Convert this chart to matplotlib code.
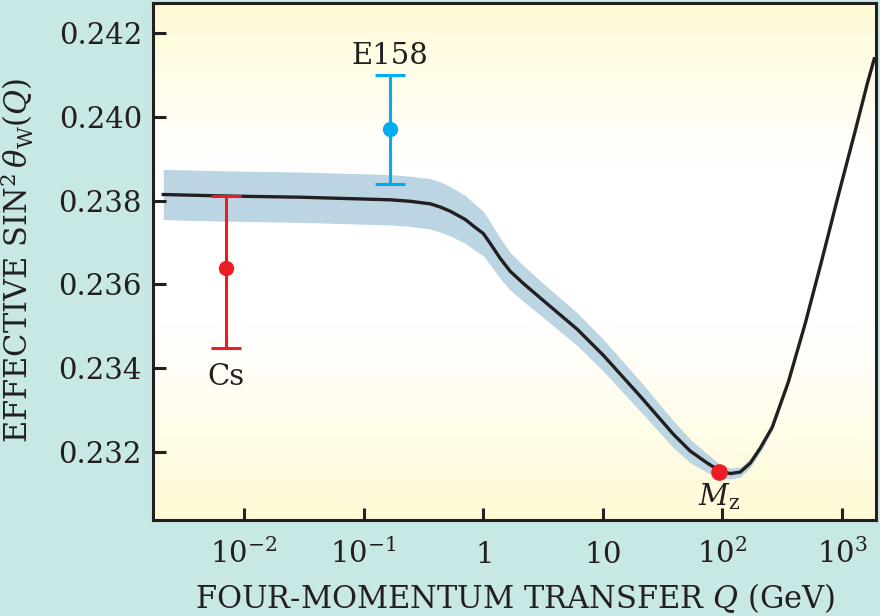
# Running weak mixing angle versus four-momentum transfer Q

import numpy as np
import matplotlib.pyplot as plt
from matplotlib.colors import LinearSegmentedColormap

plt.rcParams['font.family'] = ['DejaVu Serif']
plt.rcParams['mathtext.fontset'] = 'dejavuserif'

# theory curve (Q in GeV) with its uncertainty band
q_curve = [0.002111, 0.0071, 0.0295, 0.1669, 0.2453, 0.3604, 0.4369, 0.5297,
           0.7071, 0.8573, 1.0, 1.144, 1.387, 1.682, 2.160, 2.828, 4.157,
           6.109, 10.08, 20.54, 38.79, 53.81, 74.64, 95.85, 116.2, 140.8,
           170.8, 207.1, 260.9, 354.9, 492.4, 683.1, 929.3, 1289.6, 1624, 1859]
s_curve = [0.238143, 0.238107, 0.238079, 0.238017, 0.237981, 0.237921,
           0.237845, 0.237745, 0.237548, 0.237357, 0.237214, 0.236976,
           0.236619, 0.236310, 0.236024, 0.235738, 0.235333, 0.234929,
           0.234310, 0.233333, 0.232428, 0.232024, 0.231738, 0.231548,
           0.231488, 0.231524, 0.231738, 0.232095, 0.232595, 0.233667,
           0.235071, 0.236619, 0.238119, 0.239667, 0.240786, 0.241381]
s_err = [0.00060, 0.00060, 0.00060, 0.00060, 0.00060, 0.00060, 0.00060,
         0.00059, 0.00057, 0.00055, 0.00053, 0.00051, 0.00048, 0.00045,
         0.00043, 0.00041, 0.00040, 0.00039, 0.00038, 0.00036, 0.00032,
         0.00028, 0.00022, 0.00016, 0.00013, 0.00012, 0.00011, 0.00010,
         0.00008, 0.00005, 0, 0, 0, 0, 0, 0]

# measurements
cs_q, cs_s, cs_lo, cs_hi = 0.0071, 0.23640, 0.00192, 0.00170
e158_q, e158_s, e158_lo, e158_hi = 0.165, 0.23971, 0.00131, 0.00129
mz_q, mz_s = 94.0, 0.23153

xticks = [1e-2, 1e-1, 1, 10, 1e2, 1e3]
xticklabels = ['$10^{-2}$', '$10^{-1}$', '$1$', '$10$', '$10^{2}$', '$10^{3}$']
yticks = [0.232, 0.234, 0.236, 0.238, 0.240, 0.242]
yticklabels = ['0.232', '0.234', '0.236', '0.238', '0.240', '0.242']

ink = '#231f20'
fig = plt.figure(figsize=(8.8, 6.16), dpi=100, facecolor='#c8e8e6')
ax = fig.add_axes([0.1739, 0.1558, 0.8216, 0.8393])

# yellow-white-yellow background
cmap = LinearSegmentedColormap.from_list(
    'bg', [(0, '#fffad6'), (0.32, '#ffffff'), (0.62, '#ffffff'), (1, '#fffad6')])
ax.imshow(np.linspace(0, 1, 256).reshape(-1, 1), cmap=cmap, aspect='auto',
          extent=[0, 1, 0, 1], transform=ax.transAxes, zorder=0)

q = np.array(q_curve)
s = np.array(s_curve)
e = np.array(s_err)
m = e > 0
ax.fill_between(q[m], (s - e)[m], (s + e)[m], color='#bcd5e3', lw=0, zorder=1)
ax.plot(q, s, color=ink, lw=2.4, zorder=3)

ax.errorbar([cs_q], [cs_s], yerr=[[cs_lo], [cs_hi]], fmt='o', color='#ed1c24',
            ms=10, lw=2.2, capsize=11, capthick=2.2, zorder=4)
ax.errorbar([e158_q], [e158_s], yerr=[[e158_lo], [e158_hi]], fmt='o',
            color='#00aeef', ms=10, lw=2.2, capsize=11, capthick=2.2, zorder=4)
ax.plot([mz_q], [mz_s], 'o', color='#ed1c24', ms=11, zorder=5)

ax.text(e158_q, 0.24126, 'E158', ha='center', va='baseline', fontsize=21, color=ink)
ax.text(cs_q, 0.23412, 'Cs', ha='center', va='top', fontsize=21, color=ink)
ax.text(mz_q, 0.23131, r'$M_{\rm z}$', ha='center', va='top', fontsize=21, color=ink)

ax.set_xscale('log')
ax.set_xlim(10 ** -2.761, 10 ** 3.284)
ax.set_ylim(0.23038, 0.24271)
ax.set_xticks(xticks)
ax.set_xticklabels(xticklabels)
ax.xaxis.set_minor_locator(plt.NullLocator())
ax.set_yticks(yticks)
ax.set_yticklabels(yticklabels)
ax.tick_params(direction='in', length=9, width=2.2, color=ink, labelsize=21,
               labelcolor=ink)
ax.tick_params(axis='y', pad=8)
ax.tick_params(axis='x', pad=31)
for t in ax.get_xticklabels():
    t.set_va('baseline')
for sp in ax.spines.values():
    sp.set_linewidth(2.2)
    sp.set_color(ink)

ax.set_xlabel(r'FOUR-MOMENTUM TRANSFER $Q$ (GeV)', fontsize=22, color=ink, va='top')
ax.set_ylabel(r'EFFECTIVE SIN$^2\,\theta_{\rm W}(Q)$', fontsize=22, color=ink)
ax.xaxis.set_label_coords(0.5007, -0.118)
ax.yaxis.set_label_coords(-0.162, 0.503)

plt.savefig('out.png', dpi=100, facecolor=fig.get_facecolor())
